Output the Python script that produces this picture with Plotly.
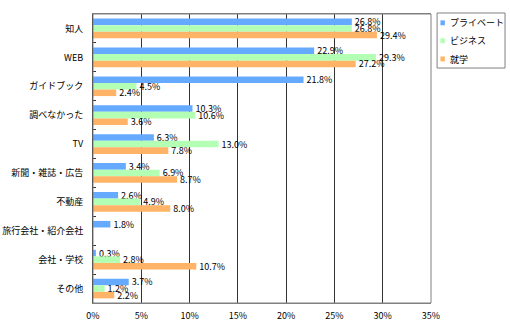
import plotly.graph_objects as go

categories = ["知人", "WEB", "ガイドブック", "調べなかった", "TV", "新聞・雑誌・広告",
              "不動産", "旅行会社・紹介会社", "会社・学校", "その他"]
private = [26.8, 22.9, 21.8, 10.3, 6.3, 3.4, 2.6, 1.8, 0.3, 3.7]
business = [26.8, 29.3, 4.5, 10.6, 13.0, 6.9, 4.9, None, 2.8, 1.2]
study = [29.4, 27.2, 2.4, 3.6, 7.8, 8.7, 8.0, None, 10.7, 2.2]
series_names = ["プライベート", "ビジネス", "就学"]
colors = ["#66AAFF", "#B3FFB3", "#FFB366"]
x_ticks = [0, 5, 10, 15, 20, 25, 30, 35]

FONT = "Noto Sans CJK JP, Noto Sans, sans-serif"

fig = go.Figure()
for name, vals, col in zip(series_names, [private, business, study], colors):
    fig.add_trace(go.Bar(
        y=categories, x=vals, name=name, orientation="h",
        marker=dict(color=col, line=dict(width=0)),
        text=[("%.1f%%" % v) if v is not None else "" for v in vals],
        textposition="outside", cliponaxis=False, constraintext="none",
        textfont=dict(size=9, color="#000000", family=FONT),
        showlegend=False,
    ))

fig.update_layout(
    width=510, height=330,
    margin=dict(l=93, r=79, t=14, b=27, autoexpand=False),
    barmode="group", bargap=0.32, bargroupgap=0,
    plot_bgcolor="white", paper_bgcolor="white",
    font=dict(family=FONT, size=9, color="#000000"),
    showlegend=False,
)
fig.update_xaxes(
    range=[0, 35], tickvals=x_ticks, ticktext=[f"{t}%" for t in x_ticks],
    showgrid=True, gridcolor="#333333", gridwidth=1,
    showline=True, linecolor="#808080", mirror=True, zeroline=False,
    ticks="", tickfont=dict(size=9), ticklabelstandoff=4, automargin=False,
)
fig.update_yaxes(
    autorange="reversed", showline=True, linecolor="#333333", mirror=False,
    ticks="inside", tickson="boundaries", ticklen=3, tickcolor="#333333",
    tickfont=dict(size=9), showgrid=False, ticklabelstandoff=7, automargin=False,
)
# top & right border
fig.add_shape(type="rect", xref="paper", yref="paper", x0=0, x1=1, y0=0, y1=1,
              line=dict(color="#808080", width=1))

# manual legend box
fig.add_shape(type="rect", xref="paper", yref="paper",
              x0=1.018, x1=1.219, y0=0.813, y1=1.0035,
              line=dict(color="#808080", width=1), fillcolor="white")
leg_y = [0.969, 0.907, 0.844]
for name, col, yy in zip(series_names, colors, leg_y):
    fig.add_shape(type="rect", xref="paper", yref="paper",
                  x0=1.028, x1=1.041, y0=yy - 0.008, y1=yy + 0.009,
                  line=dict(width=0), fillcolor=col)
    fig.add_annotation(x=1.051, y=yy, xref="paper", yref="paper",
                       text=name, showarrow=False, xanchor="left", yanchor="middle",
                       font=dict(size=9, family=FONT, color="#000000"))

fig.write_html("out.html")
